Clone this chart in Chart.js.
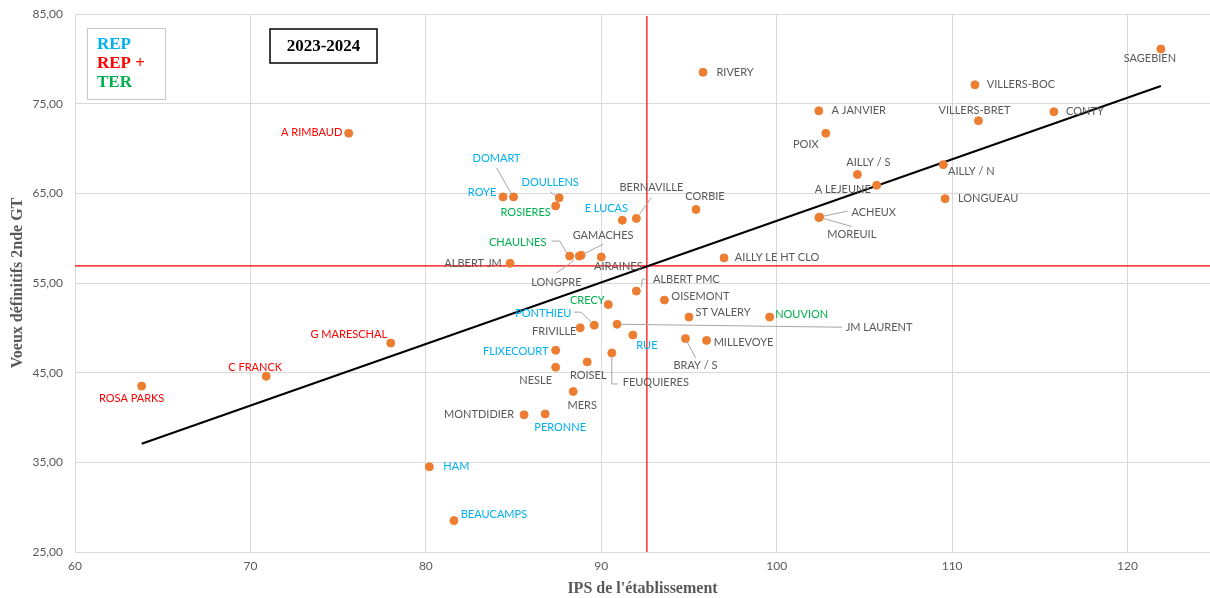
<!DOCTYPE html>
<html>
<head>
<meta charset="utf-8">
<script src="https://cdn.jsdelivr.net/npm/chart.js@4.4.0/dist/chart.umd.min.js"></script>
<style>
    html, body { margin: 0; padding: 0; background: #ffffff; }
    #zone { width: 1210px; height: 598px; }
</style>
</head>
<body>
<div id="zone"><canvas id="graphique"></canvas></div>
<script>
// etablissements, IPS (x) et voeux definitifs 2nde GT (y)
const etablissements = ["A RIMBAUD", "RIVERY", "ROYE", "DOMART", "DOULLENS", "ROSIERES", "E LUCAS", "BERNAVILLE", "CORBIE", "CHAULNES",
    "GAMACHES", "LONGPRE", "AIRAINES", "ALBERT JM", "AILLY LE HT CLO", "ALBERT PMC", "OISEMONT", "CRECY", "ST VALERY", "NOUVION",
    "PONTHIEU", "FRIVILLE", "JM LAURENT", "RUE", "BRAY / S", "MILLEVOYE", "FLIXECOURT", "NESLE", "ROISEL", "FEUQUIERES",
    "MERS", "MONTDIDIER", "PERONNE", "HAM", "BEAUCAMPS", "ROSA PARKS", "C FRANCK", "G MARESCHAL", "SAGEBIEN", "VILLERS-BOC",
    "A JANVIER", "CONTY", "VILLERS-BRET", "POIX", "AILLY / S", "AILLY / N", "A LEJEUNE", "LONGUEAU", "ACHEUX", "MOREUIL"]

const ips = [75.6, 95.8, 84.4, 85.0, 87.6, 87.4, 91.2, 92.0, 95.4, 88.2,
    88.85, 88.75, 90.0, 84.8, 97.0, 92.0, 93.6, 90.4, 95.0, 99.6,
    89.6, 88.8, 90.9, 91.8, 94.8, 96.0, 87.4, 87.4, 89.2, 90.6,
    88.4, 85.6, 86.8, 80.2, 81.6, 63.8, 70.9, 78.0, 121.9, 111.3,
    102.4, 115.8, 111.5, 102.8, 104.6, 109.5, 105.7, 109.6, 102.45, 102.4]

const voeux = [71.7, 78.5, 64.6, 64.6, 64.5, 63.6, 62.0, 62.2, 63.2, 58.0,
    58.1, 58.0, 57.9, 57.2, 57.8, 54.1, 53.1, 52.6, 51.2, 51.2,
    50.3, 50.0, 50.4, 49.2, 48.8, 48.6, 47.5, 45.6, 46.2, 47.2,
    42.9, 40.3, 40.4, 34.5, 28.5, 43.5, 44.6, 48.3, 81.1, 77.1,
    74.2, 74.1, 73.1, 71.7, 67.1, 68.2, 65.9, 64.4, 62.35, 62.3]

const reseau = ["REP+", "", "REP", "REP", "REP", "TER", "REP", "", "", "TER",
    "", "", "", "", "", "", "", "TER", "", "TER",
    "REP", "", "", "REP", "", "", "REP", "", "", "",
    "", "", "REP", "REP", "REP", "REP+", "REP+", "REP+", "", "",
    "", "", "", "", "", "", "", "", "", ""]

// lignes de reference rouges
const ipsReference = 92.6
const voeuxReference = 56.9

const ticksX = [60, 70, 80, 90, 100, 110, 120]
const ticksY = [25, 35, 45, 55, 65, 75, 85]

const couleursReseau = { "REP": "#00B0F0", "REP+": "#FF0000", "TER": "#00B050", "": "#595959" }

// position des etiquettes (decalage en px du centre du texte par rapport au point)
const placement = {
    "A RIMBAUD": [-37, -1], "RIVERY": [32, 0], "ROYE": [-21, -4], "DOMART": [-17, -38], "DOULLENS": [-9, -15],
    "ROSIERES": [-30, 7], "E LUCAS": [-16, -12], "BERNAVILLE": [15, -31], "CORBIE": [9, -13], "CHAULNES": [-52, -14],
    "GAMACHES": [22, -20], "LONGPRE": [-23, 26], "AIRAINES": [17, 9], "ALBERT JM": [-37, 0], "AILLY LE HT CLO": [53, 0],
    "ALBERT PMC": [50, -12], "OISEMONT": [36, -4], "CRECY": [-21, -4], "ST VALERY": [34, -5], "NOUVION": [32, -3],
    "PONTHIEU": [-51, -12], "FRIVILLE": [-26, 4], "JM LAURENT": [262, 3], "RUE": [14, 10], "BRAY / S": [10, 27],
    "MILLEVOYE": [37, 2], "FLIXECOURT": [-40, 1], "NESLE": [-20, 13], "ROISEL": [1, 14], "FEUQUIERES": [44, 30],
    "MERS": [9, 14], "MONTDIDIER": [-45, 0], "PERONNE": [15, 14], "HAM": [27, 0], "BEAUCAMPS": [40, -6],
    "ROSA PARKS": [-10, 12], "C FRANCK": [-11, -9], "G MARESCHAL": [-42, -9], "SAGEBIEN": [-11, 9], "VILLERS-BOC": [46, 0],
    "A JANVIER": [40, 0], "CONTY": [31, 0], "VILLERS-BRET": [-4, -10], "POIX": [-20, 11], "AILLY / S": [11, -12],
    "AILLY / N": [28, 7], "A LEJEUNE": [-34, 4], "LONGUEAU": [43, 0], "ACHEUX": [54, -5], "MOREUIL": [33, 17]
}

// traits de rappel (px relatifs au point)
const rappels = {
    "DOMART": [[-17, -29], [-2, -3]],
    "DOULLENS": [[-9, -6], [-3, -2]],
    "BERNAVILLE": [[15, -21], [3, -4]],
    "CHAULNES": [[-18, -15], [-10, -15], [-3, -3]],
    "GAMACHES": [[22, -11], [4, -2]],
    "LONGPRE": [[-23, 17], [-5, 4]],
    "ALBERT PMC": [[12, -12], [6, -12], [5, -4]],
    "PONTHIEU": [[-20, -13], [-13, -13], [-2, -2]],
    "JM LAURENT": [[4, 0], [225, 3]],
    "BRAY / S": [[1, 2], [10, 19]],
    "FEUQUIERES": [[0, 4], [0, 31], [6, 31]],
    "ACHEUX": [[4, -1], [28, -6]],
    "MOREUIL": [[5, 1], [33, 9]]
}

function regression(xs, ys) {
    const n = xs.length
    const mx = xs.reduce((a, b) => a + b, 0) / n
    const my = ys.reduce((a, b) => a + b, 0) / n
    let sxy = 0, sxx = 0
    for (let i = 0; i < n; i++) {
        sxy += (xs[i] - mx) * (ys[i] - my)
        sxx += (xs[i] - mx) * (xs[i] - mx)
    }
    const pente = sxy / sxx
    return { pente: pente, origine: my - pente * mx }
}

const points = ips.map((x, i) => ({ x: x, y: voeux[i] }))
const tendance = regression(ips, voeux)
const xMin = Math.min(...ips)
const xMax = Math.max(...ips)
const droite = [
    { x: xMin, y: tendance.origine + tendance.pente * xMin },
    { x: xMax, y: tendance.origine + tendance.pente * xMax }
]

const lignesRouges = {
    id: "lignesRouges",
    beforeDatasetsDraw(chart) {
        const { ctx, chartArea, scales } = chart
        const px = scales.x.getPixelForValue(ipsReference)
        const py = scales.y.getPixelForValue(voeuxReference)
        ctx.save()
        ctx.strokeStyle = "#FF0000"
        ctx.lineWidth = 1.2
        ctx.beginPath()
        ctx.moveTo(px, chartArea.top + 2)
        ctx.lineTo(px, chartArea.bottom)
        ctx.moveTo(chartArea.left, py)
        ctx.lineTo(chartArea.right, py)
        ctx.stroke()
        ctx.restore()
    }
}

const etiquettes = {
    id: "etiquettes",
    afterDatasetsDraw(chart) {
        const ctx = chart.ctx
        const meta = chart.getDatasetMeta(0)
        ctx.save()
        ctx.strokeStyle = "#a6a6a6"
        ctx.lineWidth = 1
        etablissements.forEach((nom, i) => {
            const el = meta.data[i]
            const r = rappels[nom]
            if (!r) return
            ctx.beginPath()
            r.forEach(([dx, dy], k) => {
                if (k === 0) ctx.moveTo(el.x + dx, el.y + dy)
                else ctx.lineTo(el.x + dx, el.y + dy)
            })
            ctx.stroke()
        })
        ctx.font = "11px Lato"
        ctx.textAlign = "center"
        ctx.textBaseline = "middle"
        etablissements.forEach((nom, i) => {
            const el = meta.data[i]
            const [dx, dy] = placement[nom]
            ctx.fillStyle = couleursReseau[reseau[i]]
            ctx.fillText(nom, el.x + dx, el.y + dy)
        })
        ctx.restore()
    },
    afterDraw(chart) {
        const ctx = chart.ctx
        ctx.save()
        // legende des reseaux
        ctx.fillStyle = "#ffffff"
        ctx.fillRect(87, 28, 78, 71)
        ctx.strokeStyle = "#c8c8c8"
        ctx.lineWidth = 1
        ctx.strokeRect(87.5, 28.5, 78, 71)
        ctx.font = "bold 17px 'Liberation Serif'"
        ctx.textAlign = "left"
        ctx.textBaseline = "middle"
        ctx.fillStyle = couleursReseau["REP"]
        ctx.fillText("REP", 97, 45)
        ctx.fillStyle = couleursReseau["REP+"]
        ctx.fillText("REP +", 97, 64)
        ctx.fillStyle = couleursReseau["TER"]
        ctx.fillText("TER", 97, 83)
        // annee
        ctx.fillStyle = "#ffffff"
        ctx.fillRect(270, 29, 107, 34)
        ctx.strokeStyle = "#000000"
        ctx.lineWidth = 1.5
        ctx.strokeRect(270, 29, 107, 34)
        ctx.fillStyle = "#000000"
        ctx.textAlign = "center"
        ctx.fillText("2023-2024", 323.5, 46.5)
        ctx.restore()
    }
}

new Chart(document.getElementById("graphique"), {
    type: "scatter",
    data: {
        datasets: [{
            label: "Etablissements",
            data: points,
            backgroundColor: "#ED7D31",
            borderColor: "#ED7D31",
            pointRadius: 4,
            pointHoverRadius: 4,
            order: 0
        }, {
            label: "Tendance",
            data: droite,
            showLine: true,
            borderColor: "#000000",
            borderWidth: 2,
            pointRadius: 0,
            fill: false,
            order: 1
        }]
    },
    options: {
        responsive: true,
        maintainAspectRatio: false,
        animation: false,
        layout: { autoPadding: false, padding: { top: 14, right: 0, left: 0, bottom: 0 } },
        plugins: {
            legend: { display: false },
            tooltip: { enabled: false }
        },
        scales: {
            x: {
                type: "linear",
                min: 60,
                max: 124.7,
                afterBuildTicks: (scale) => { scale.ticks = ticksX.map(v => ({ value: v })) },
                afterFit: (scale) => { scale.height = 46 },
                grid: { color: "#d9d9d9", drawTicks: true, tickLength: 7, tickColor: "rgba(0,0,0,0)" },
                border: { color: "#d9d9d9" },
                ticks: { color: "#595959", font: { family: "Lato", size: 12 }, padding: 0 },
                title: {
                    display: true,
                    text: "IPS de l'établissement",
                    color: "#595959",
                    font: { family: "Liberation Serif", size: 16, weight: "bold" },
                    padding: { top: 0, bottom: 0 }
                }
            },
            y: {
                type: "linear",
                min: 25,
                max: 85,
                afterBuildTicks: (scale) => { scale.ticks = ticksY.map(v => ({ value: v })) },
                afterFit: (scale) => { scale.width = 75 },
                grid: { color: "#d9d9d9", drawTicks: true, tickLength: 12, tickColor: "rgba(0,0,0,0)" },
                border: { color: "#d9d9d9" },
                ticks: {
                    color: "#595959",
                    font: { family: "Lato", size: 12 },
                    padding: 0,
                    callback: (v) => v.toFixed(2).replace(".", ",")
                },
                title: {
                    display: true,
                    text: "Voeux définitifs 2nde GT",
                    color: "#595959",
                    font: { family: "Liberation Serif", size: 16, weight: "bold" },
                    padding: { top: 8, bottom: 0 }
                }
            }
        }
    },
    plugins: [lignesRouges, etiquettes]
})
</script>
</body>
</html>
